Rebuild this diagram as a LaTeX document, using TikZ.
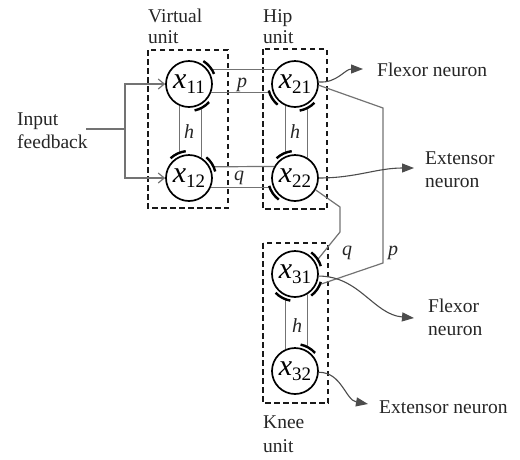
\documentclass[tikz,border=0pt]{standalone}
\usepackage{fontspec}
\setmainfont{Liberation Serif}
\usetikzlibrary{arrows.meta,calc}
\newcommand\nlab[1]{{\fontsize{30}{30}\selectfont\itshape x}\raisebox{-5pt}{\fontsize{19}{19}\selectfont #1}}
\newcommand\inharc[2]{\draw[inh] ($(#1)+({#2-18}:27)$) arc[start angle={#2-18},end angle={#2+18},radius=27];}
\begin{document}
\begin{tikzpicture}[x=1pt,y=1pt,
 neuron/.style={circle,draw=black,line width=1.7pt,minimum size=46pt,inner sep=0pt},
 link/.style={draw=black!55,line width=1.2pt},
 inhl/.style={link,shorten >=3.5pt},
 inh/.style={draw=black,line width=2.4pt},
 unitbox/.style={draw=black!90,line width=1.5pt,dash pattern=on 5.5pt off 3.5pt},
 lbl/.style={anchor=base west,inner sep=0pt,align=left,text=black!85,font=\fontsize{19.5}{23}\selectfont},
 wlbl/.style={lbl,font=\fontsize{20}{23}\selectfont\itshape},
 outarr/.style={draw=black!70,line width=1.1pt,-{Triangle[length=12pt,width=9pt]}},
 inarr/.style={link,-{Straight Barb[length=6pt,width=10pt]}}
]
\useasboundingbox (0,0) rectangle (520,-459);
% unit boxes
\draw[unitbox] (148,-50) rectangle (228,-208);
\draw[unitbox] (263,-49) rectangle (327,-209);
\draw[unitbox] (263,-243) rectangle (328,-403);
% neurons
\node[neuron] (x11) at (189,-84) {\nlab{11}};
\node[neuron] (x12) at (189,-178) {\nlab{12}};
\node[neuron] (x21) at (295,-84) {\nlab{21}};
\node[neuron] (x22) at (295,-178) {\nlab{22}};
\node[neuron] (x31) at (295,-274) {\nlab{31}};
\node[neuron] (x32) at (295,-371) {\nlab{32}};
% unit labels (base = last line)
\node[lbl,font=\fontsize{19.5}{21}\selectfont] (tvirt) at (148,-43) {Virtual\\unit};
\node[lbl,font=\fontsize{19.5}{21}\selectfont] (thip) at (263,-43) {Hip\\unit};
\node[lbl,font=\fontsize{19.5}{24}\selectfont] (tknee) at (263,-452) {Knee\\unit};
\node[lbl] (tin) at (17,-148) {Input\\feedback};
% input feedback
\coordinate (inS) at (86,-129);
\coordinate (inJ) at (125,-129);
\draw[link] (inS) -- (inJ);
\draw[inarr] (inJ) |- (x11);
\draw[inarr] (inJ) |- (x12);
% h links
\draw[inhl] (x11.-113) -- (x12.113);
\draw[inhl] (x12.58.6) -- (x11.-58.6);
\draw[inhl] (x21.-113) -- (x22.113);
\draw[inhl] (x22.58.6) -- (x21.-58.6);
\draw[inhl] (x32.113) -- (x31.-113);
\draw[inhl] (x31.-58.6) -- (x32.58.6);
% p and q between virtual and hip
\draw[inhl] (x21.143) -- (x11.37);
\draw[inhl] (x11.-20) -- (x21.200);
\draw[inhl] (x22.151.4) -- (x12.28.6);
\draw[inhl] (x12.-23) -- (x22.203);
% hip to knee
\coordinate (q1) at (340,-207);
\coordinate (q2) at (340,-232);
\draw[inhl] (x22.-30) -- (q1) -- (q2) -- (x31.30);
\coordinate (p1) at (383,-108);
\coordinate (p2) at (383,-263);
\draw[inhl] (x21.-3) -- (p1) -- (p2) -- (x31.-30);
% inhibitory synapse arcs
\inharc{x11}{40}
\inharc{x11}{-60}
\inharc{x12}{115}
\inharc{x12}{32}
\inharc{x21}{212}
\inharc{x21}{-62}
\inharc{x22}{115}
\inharc{x22}{215}
\inharc{x31}{35}
\inharc{x31}{-35}
\inharc{x31}{-118}
\inharc{x32}{60}
% weight labels
\node[wlbl] (h1) at (184,-138) {h};
\node[wlbl] (h2) at (290,-138) {h};
\node[wlbl] (h3) at (292,-332) {h};
\node[wlbl] (pl1) at (237,-87) {p};
\node[wlbl] (ql1) at (234,-180) {q};
\node[wlbl] (ql2) at (342,-255) {q};
\node[wlbl] (pl2) at (388,-255) {p};
% outputs
\node[lbl] (o1) at (377,-76) {Flexor neuron};
\node[lbl] (o2) at (425,-187) {Extensor\\neuron};
\node[lbl] (o3) at (428,-335) {Flexor\\neuron};
\node[lbl] (o4) at (379,-413) {Extensor neuron};
\coordinate (t1) at (363,-69);
\coordinate (t2) at (414,-168);
\coordinate (t3) at (414,-318);
\coordinate (t4) at (368,-404);
\draw[outarr] (x21.5) to[out=-5,in=180] (t1);
\draw[outarr] (x22.0) to[out=0,in=180] (t2);
\draw[outarr] (x31.-5) to[out=0,in=175] (t3);
\draw[outarr] (x32.-3) to[out=0,in=170] (t4);
\end{tikzpicture}
\end{document}
